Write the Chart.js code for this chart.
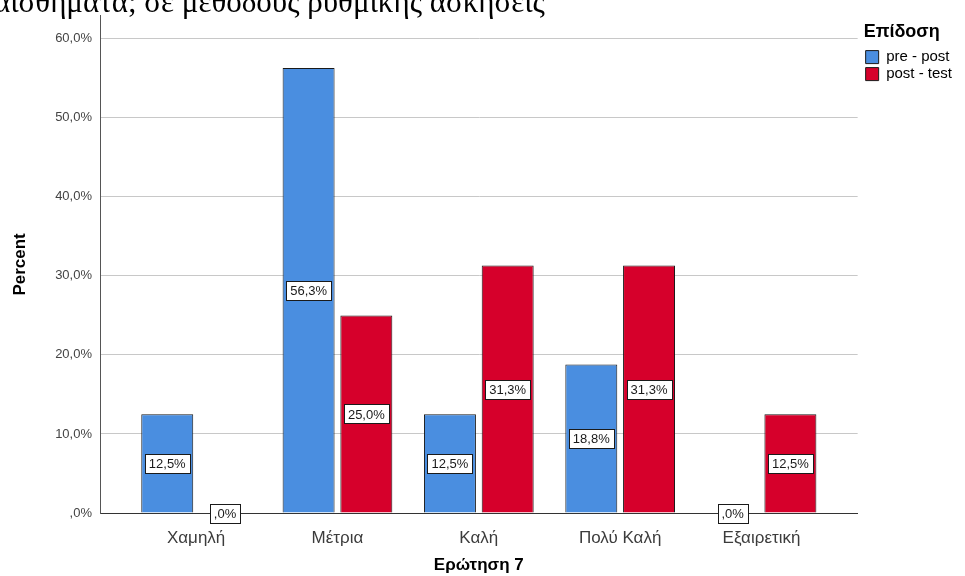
<!DOCTYPE html>
<html>
<head>
<meta charset="utf-8">
<script src="https://cdn.jsdelivr.net/npm/chart.js@4.4.1/dist/chart.umd.min.js"></script>
<style>
  html, body { margin: 0; padding: 0; background: #fff; overflow: hidden; }
  #wrap { position: relative; width: 965px; height: 576px; overflow: hidden; }
  #cap { position: absolute; left: -6px; top: -14px; font: 31px "Liberation Serif", "DejaVu Serif", serif; line-height: 31px; white-space: nowrap; color: #000; }
  canvas { position: absolute; left: 0; top: 0; }
</style>
</head>
<body>
<div id="wrap">
  <canvas id="c" width="965" height="576"></canvas>
  <div id="cap">αισθήματα; σε μεθόδους ρυθμικής ασκήσεις</div>
</div>
<script>
// Answers to question 7, percent of respondents per rating
const categories = ['Χαμηλή', 'Μέτρια', 'Καλή', 'Πολύ Καλή', 'Εξαιρετική'];
const prePost  = [12.5, 56.3, 12.5, 18.8, 0];
const postTest = [0, 25.0, 31.3, 31.3, 12.5];
const seriesNames = ['pre - post', 'post - test'];
const yTicks = [0, 10, 20, 30, 40, 50, 60];

const SANS = '"Liberation Sans", Arial, Helvetica, sans-serif';

function fmtPct(v) {
  if (v === 0) return ',0%';
  return v.toFixed(1).replace('.', ',') + '%';
}

// White boxed value label in the middle of every bar
const valueLabels = {
  id: 'valueLabels',
  afterDatasetsDraw(chart) {
    const ctx = chart.ctx;
    ctx.save();
    ctx.font = '13px ' + SANS;
    ctx.textAlign = 'center';
    ctx.textBaseline = 'middle';
    chart.data.datasets.forEach((ds, di) => {
      chart.getDatasetMeta(di).data.forEach((bar, i) => {
        const txt = fmtPct(ds.data[i].y);
        const w = Math.round(ctx.measureText(txt).width + 8);
        const h = 19;
        const cy = (bar.y + bar.base) / 2;
        const x0 = Math.round(bar.x - w / 2) + 0.5;
        const y0 = Math.round(cy - h / 2) + 0.5;
        ctx.fillStyle = '#ffffff';
        ctx.fillRect(x0, y0, w, h);
        ctx.strokeStyle = '#1a1a1a';
        ctx.lineWidth = 1;
        ctx.strokeRect(x0, y0, w, h);
        ctx.fillStyle = '#1a1a1a';
        ctx.fillText(txt, bar.x, cy + 1);
      });
    });
    ctx.restore();
  }
};

// Small empty layout box that keeps the legend a few pixels off the plot
const legendGap = {
  id: 'legendGap',
  beforeInit(chart) {
    Chart.layouts.addBox(chart, {
      position: 'right', weight: 500, fullSize: false, options: {},
      left: 0, top: 0, right: 0, bottom: 0, width: 0, height: 0,
      isHorizontal() { return false; },
      update(maxWidth, maxHeight) { this.width = 6; this.height = maxHeight; },
      getPadding() { return { left: 0, top: 0, right: 0, bottom: 0 }; },
      draw() {}
    });
  }
};

new Chart(document.getElementById('c'), {
  type: 'bar',
  data: {
    datasets: [
      {
        label: seriesNames[0],
        data: prePost.map((v, i) => ({ x: i, y: v })),
        backgroundColor: '#4a8ee0',
        borderColor: '#1a1a1a',
        borderWidth: 1
      },
      {
        label: seriesNames[1],
        data: postTest.map((v, i) => ({ x: i, y: v })),
        backgroundColor: '#d6002b',
        borderColor: '#1a1a1a',
        borderWidth: 1
      }
    ]
  },
  options: {
    responsive: false,
    animation: false,
    events: [],
    categoryPercentage: 0.817,
    barPercentage: 0.9,
    layout: { padding: { top: 15, right: 3, bottom: 0, left: 0 } },
    scales: {
      x: {
        type: 'linear',
        offset: false,
        min: -0.68,
        max: 4.68,
        afterBuildTicks(scale) { scale.ticks = categories.map((_, i) => ({ value: i })); },
        afterFit(scale) { scale.height = 63; },
        grid: { display: false, offset: false },
        border: { display: true, color: '#333333', width: 1 },
        ticks: {
          autoSkip: false,
          maxRotation: 0,
          padding: 7,
          color: '#3c3c3c',
          font: { family: SANS, size: 17 },
          callback: (v) => categories[v]
        },
        title: {
          display: true,
          text: 'Ερώτηση 7',
          color: '#000',
          padding: { top: 0, bottom: 0 },
          font: { family: SANS, size: 17, weight: 'bold' }
        }
      },
      y: {
        min: 0,
        max: 62.9,
        afterBuildTicks(scale) { scale.ticks = yTicks.map(v => ({ value: v })); },
        afterFit(scale) { scale.width = 100; },
        grid: { color: '#c8c8c8', drawTicks: false },
        border: { display: true, color: '#555555', width: 1 },
        ticks: {
          padding: 8,
          color: '#444444',
          font: { family: SANS, size: 13 },
          callback: (v) => fmtPct(v)
        },
        title: {
          display: true,
          text: 'Percent',
          color: '#000',
          padding: { top: 10, bottom: 0 },
          font: { family: SANS, size: 17, weight: 'bold' }
        }
      }
    },
    plugins: {
      tooltip: { enabled: false },
      legend: {
        position: 'right',
        align: 'start',
        title: {
          display: true,
          text: 'Επίδοση',
          position: 'start',
          color: '#000',
          padding: { top: 8, bottom: 3 },
          font: { family: SANS, size: 18, weight: 'bold' }
        },
        labels: {
          boxWidth: 13,
          boxHeight: 13,
          padding: 2,
          color: '#000',
          font: { family: SANS, size: 15 }
        }
      }
    }
  },
  plugins: [valueLabels, legendGap]
});
</script>
</body>
</html>
